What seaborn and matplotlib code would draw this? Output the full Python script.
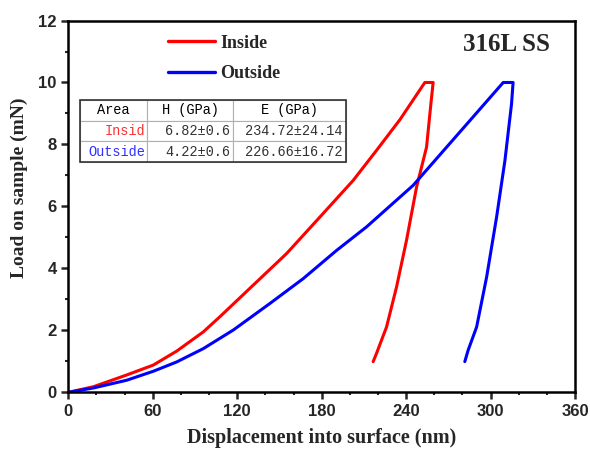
import numpy as np
import pandas as pd
import matplotlib
matplotlib.use("Agg")
import matplotlib.pyplot as plt
from matplotlib.ticker import MultipleLocator
from matplotlib.patches import Rectangle
from matplotlib.lines import Line2D
import seaborn as sns

# ---- data ----
inside_x = [0, 17.8, 41.5, 60.4, 77, 95.9, 107.7, 131.4, 155.1, 178.8, 202.4, 219, 235.6, 253.3,
            259.2, 257.6, 254.5, 247.4, 240.3, 233.2, 226.1, 219.0, 216.6]
inside_y = [0, 0.18, 0.56, 0.88, 1.33, 1.95, 2.44, 3.46, 4.48, 5.66, 6.84, 7.81, 8.80, 10.0,
            10.0, 9.31, 7.91, 6.62, 4.91, 3.40, 2.11, 1.26, 0.99]
outside_x = [0, 17.8, 41.5, 60.4, 77, 95.9, 117.2, 143.3, 166.9, 190.6, 211.9, 245.0, 285.3, 309.0,
             316.0, 314.9, 310.2, 304.3, 297.2, 290.1, 284.0, 281.7]
outside_y = [0, 0.14, 0.39, 0.68, 0.98, 1.41, 2.01, 2.87, 3.67, 4.58, 5.34, 6.68, 8.77, 10.0,
             10.0, 9.31, 7.48, 5.66, 3.72, 2.11, 1.35, 0.99]
series_names = ["Inside", "Outside"]
series_colors = ["#ff0000", "#0000ff"]

table_header = ["Area", "H (GPa)", "E (GPa)"]
table_area = ["Insid", "Outside"]
table_H = ["6.82±0.6", "4.22±0.6"]
table_E = ["234.72±24.14", "226.66±16.72"]

x_ticks = [0, 60, 120, 180, 240, 300, 360]
y_ticks = [0, 2, 4, 6, 8, 10, 12]

df = pd.concat([
    pd.DataFrame({"x": inside_x, "y": inside_y, "s": series_names[0]}),
    pd.DataFrame({"x": outside_x, "y": outside_y, "s": series_names[1]}),
])

sns.set_style("ticks")
plt.rcParams["font.family"] = ["Liberation Serif", "DejaVu Serif"]

fig = plt.figure(figsize=(5.9, 4.5), dpi=100)
ax = fig.add_axes([0.1158, 0.1282, 0.8588, 0.8262])

sns.lineplot(data=df, x="x", y="y", hue="s", palette=series_colors, sort=False,
             estimator=None, lw=2.2, ax=ax, legend=False)
for ln in ax.lines:
    ln.set_solid_joinstyle("round")

ax.set_xlim(0, 360)
ax.set_ylim(0, 12)
ax.set_xticks(x_ticks)
ax.set_yticks(y_ticks)
ax.xaxis.set_minor_locator(MultipleLocator(20))
ax.yaxis.set_minor_locator(MultipleLocator(1))
ax.tick_params(which="major", direction="out", length=5, width=1.8, top=False, right=False)
ax.tick_params(which="minor", direction="out", length=2.5, width=1.5, top=False, right=False)
for lab in ax.get_xticklabels() + ax.get_yticklabels():
    lab.set_family("Liberation Sans")
    lab.set_fontweight("bold")
    lab.set_fontsize(12)
for sp in ax.spines.values():
    sp.set_visible(True)
    sp.set_linewidth(1.8)
    sp.set_color("black")

ax.set_xlabel("Displacement into surface (nm)", fontsize=14.5, fontweight="bold")
ax.set_ylabel("Load on sample (mN)", fontsize=14, fontweight="bold")
ax.xaxis.set_label_coords(0.5, -0.095)
ax.yaxis.set_label_coords(-0.079, 0.55)

# legend
handles = [Line2D([], [], color=c, lw=2.4) for c in series_colors]
ax.legend(handles, series_names, loc="upper left", bbox_to_anchor=(0.197, 0.962),
          frameon=False, borderpad=0, borderaxespad=0, handlelength=2.6, handletextpad=0.3,
          labelspacing=0.75, prop={"family": "Liberation Serif", "weight": "bold", "size": 13})

ax.text(0.951, 0.935, "316L SS", transform=ax.transAxes, ha="right", va="center",
        fontsize=18, fontweight="bold")

# table
cells = [table_header] + [[a, h, e] for a, h, e in zip(table_area, table_H, table_E)]
tb = ax.table(cellText=cells, colWidths=[0.253, 0.321, 0.426],
              bbox=[0.023, 0.620, 0.525, 0.166], cellLoc="right")
tb.auto_set_font_size(False)
txt_colors = ["#ff3030", "#3030ff"]
for (r, c), cell in tb.get_celld().items():
    cell.set_edgecolor("#b0b0b0")
    cell.set_linewidth(0.8)
    t = cell.get_text()
    t.set_fontfamily("Liberation Mono")
    t.set_fontsize(9.8)
    t.set_color("#333333")
    cell.PAD = 0.03
    if r == 0:
        t.set_ha("center")
        cell._loc = "center"
        t.set_color("black")
    if r >= 1 and c == 0:
        t.set_color(txt_colors[r - 1])
ax.add_patch(Rectangle((0.023, 0.620), 0.525, 0.166, transform=ax.transAxes,
                       fill=False, edgecolor="#333333", lw=1.2, zorder=10))

fig.savefig("out.png", dpi=100)
